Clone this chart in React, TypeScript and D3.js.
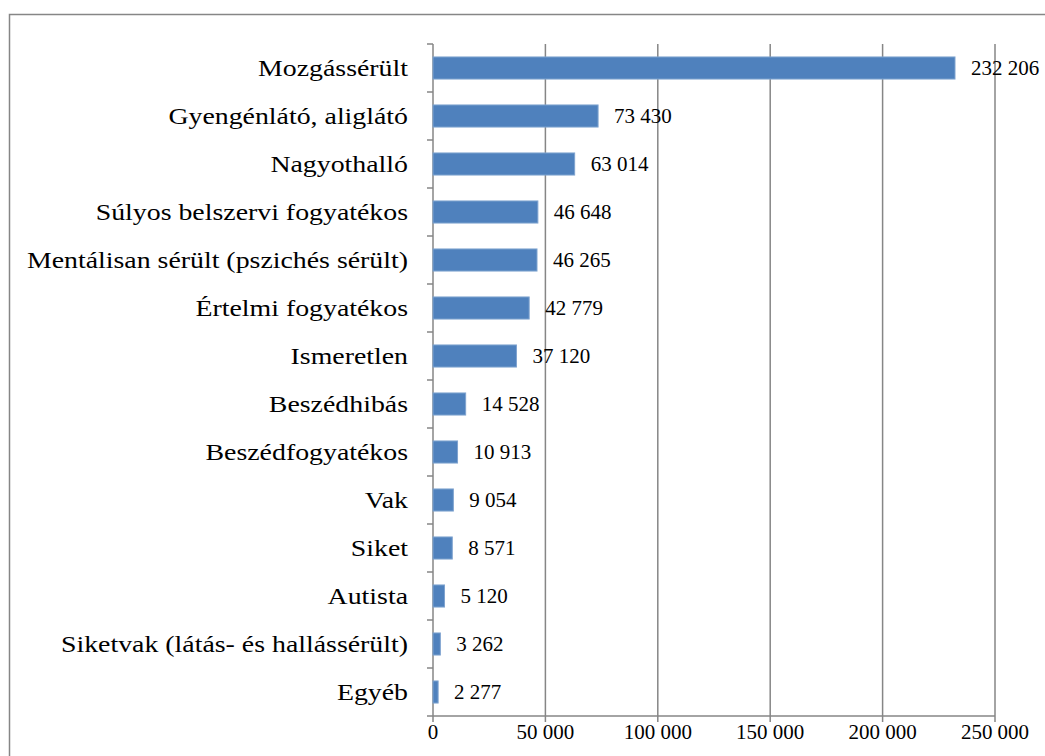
import React from "react";
import * as d3 from "d3";

const categories = [
  "Mozgássérült",
  "Gyengénlátó, aliglátó",
  "Nagyothalló",
  "Súlyos belszervi fogyatékos",
  "Mentálisan sérült (pszichés sérült)",
  "Értelmi fogyatékos",
  "Ismeretlen",
  "Beszédhibás",
  "Beszédfogyatékos",
  "Vak",
  "Siket",
  "Autista",
  "Siketvak (látás- és hallássérült)",
  "Egyéb",
];
const values = [232206, 73430, 63014, 46648, 46265, 42779, 37120, 14528, 10913, 9054, 8571, 5120, 3262, 2277];
const xTicks = [0, 50000, 100000, 150000, 200000, 250000];

const fmt = (v: number) => d3.format(",")(v).replace(/,/g, " ");

const FONT = '"Liberation Serif", "Times New Roman", Tinos, Times';

export default function App() {
  const W = 1045, H = 756;
  const left = 433, right = 995, top = 44, bottom = 716;
  const x = d3.scaleLinear().domain([0, 250000]).range([left, right]);
  const y = d3.scaleBand<string>().domain(categories).range([top, bottom]).paddingInner(0.54).paddingOuter(0.27);
  const band = (bottom - top) / categories.length;
  return (
    <svg width={W} height={H} style={{ position: "absolute", left: 0, top: 0 }}>
      <rect x={0} y={0} width={W} height={H} fill="#fff" />
      <rect x={9.5} y={14.5} width={W + 20} height={H + 20} fill="none" stroke="#868686" strokeWidth={1.5} />
      {xTicks.map((t) => (
        <g key={t}>
          {t > 0 && <line x1={x(t)} x2={x(t)} y1={top} y2={bottom} stroke="#868686" strokeWidth={1.5} />}
          <line x1={x(t)} x2={x(t)} y1={bottom} y2={bottom + 6} stroke="#868686" strokeWidth={1.5} />
          <text transform={`translate(${x(t)},${bottom + 23}) scale(1.05,1)`} textAnchor="middle" fontSize={20} fill="#000" style={{ fontFamily: FONT }}>{fmt(t)}</text>
        </g>
      ))}
      <line x1={left} x2={left} y1={top} y2={bottom} stroke="#868686" strokeWidth={1.5} />
      <line x1={left} x2={right} y1={bottom} y2={bottom} stroke="#868686" strokeWidth={1.5} />
      {d3.range(categories.length + 1).map((i) => (
        <line key={i} x1={left - 6} x2={left} y1={top + i * band} y2={top + i * band} stroke="#868686" strokeWidth={1.5} />
      ))}
      {categories.map((c, i) => {
        const yy = y(c)!;
        const cy = yy + y.bandwidth() / 2;
        return (
          <g key={c}>
            <rect x={x(0)} y={yy} width={x(values[i]) - x(0)} height={y.bandwidth()} fill="#4F81BD" stroke="#7FA3CF" strokeWidth={1} />
            <text transform={`translate(${left - 25},${cy + 8}) scale(1.16,1)`} textAnchor="end" fontSize={24} fill="#000" style={{ fontFamily: FONT }}>{c}</text>
            <text transform={`translate(${x(values[i]) + 16},${cy + 7}) scale(1.05,1)`} fontSize={20} fill="#000" style={{ fontFamily: FONT }}>{fmt(values[i])}</text>
          </g>
        );
      })}
    </svg>
  );
}
